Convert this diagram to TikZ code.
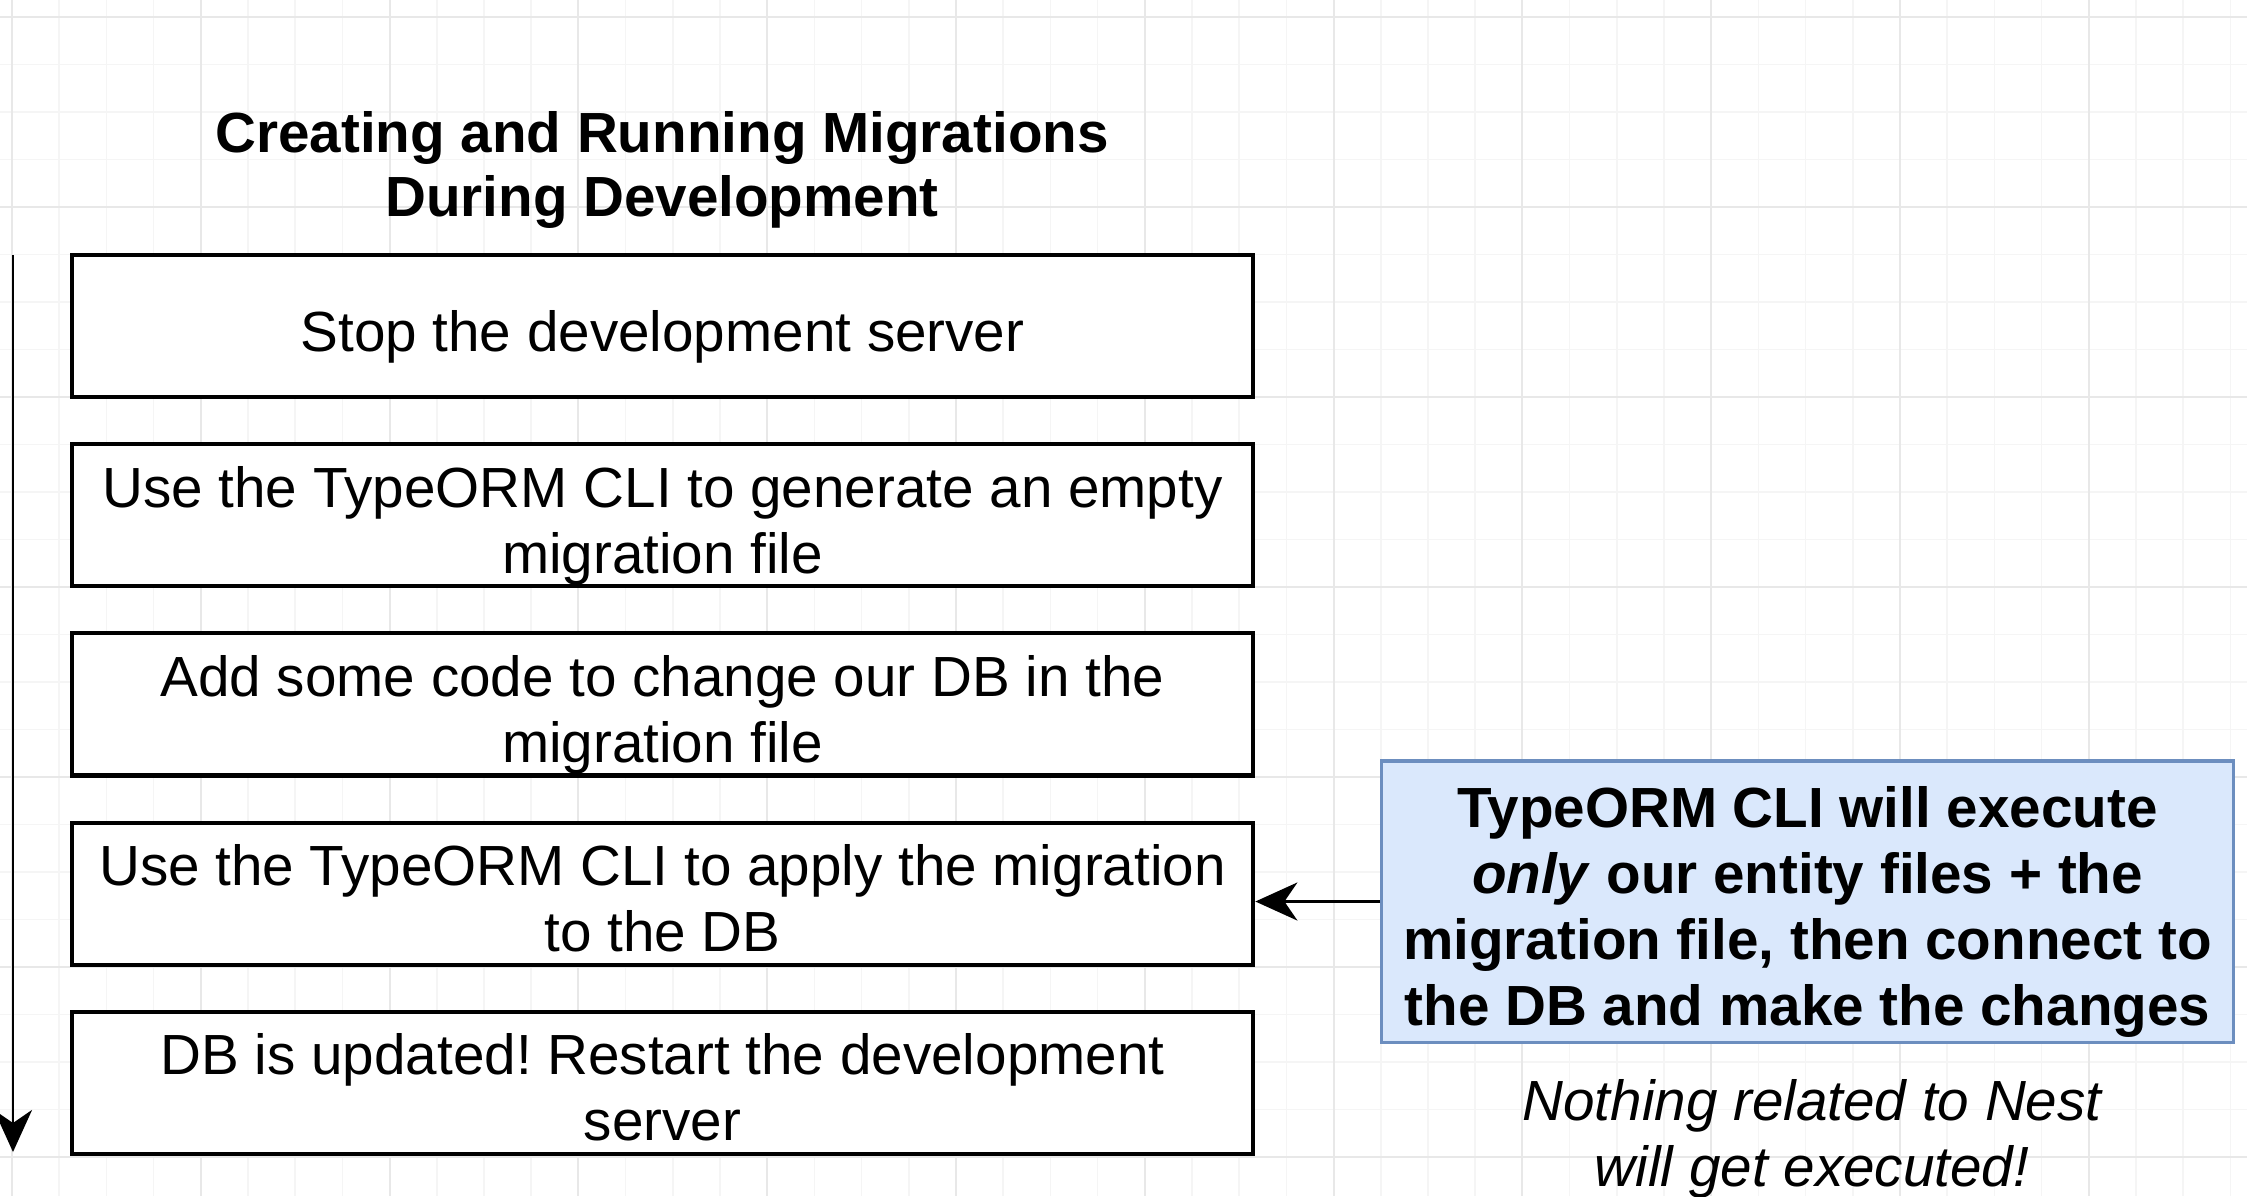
\documentclass[tikz,border=0pt]{standalone}
\usepackage{fontspec}
\setmainfont{Liberation Sans}
\usetikzlibrary{arrows.meta, positioning}
\definecolor{note}{RGB}{218, 232, 252}
\definecolor{noteline}{RGB}{108, 142, 191}
\definecolor{minorgrid}{RGB}{245, 245, 245}
\definecolor{majorgrid}{RGB}{232, 232, 232}
\frenchspacing

\tikzset{
  boxtext/.style={execute at begin node={\rule{0pt}{0.63cm}},
    execute at end node={\rule[-0.13cm]{0pt}{0pt}}},
  stepbox/.style={draw, line width=1.15pt, fill=white, align=flush center, inner sep=0pt,
    text width=11.81cm, minimum height=1.42cm, boxtext},
  notebox/.style={draw=noteline, line width=0.9pt, fill=note, align=flush center, inner sep=0pt,
    text width=8.51cm, minimum height=2.81cm, boxtext,
    font=\fontsize{16.1}{18.8}\selectfont\bfseries},
  flow/.style={line width=0.85pt, -{Stealth[length=0.42cm, width=0.38cm, inset=0.13cm]}}
}

\begin{document}
\begin{tikzpicture}[x=0.01cm, y=-0.01cm, node distance=0.43cm,
  font=\fontsize{16.1}{18.8}\selectfont]
  \useasboundingbox (0, 0) rectangle (2247, 1196);
  \fill [white] (0, 0) rectangle (2247, 1196);

  % Grid
  \foreach \i in {0,...,47}
    \draw [minorgrid, line width=0.5pt] ({12 + 47.2*\i}, 0) -- ++(0, 1196);
  \foreach \j in {0,...,24}
    \draw [minorgrid, line width=0.5pt] (0, {17 + 47.5*\j}) -- ++(2247, 0);
  \foreach \i in {0,4,...,44}
    \draw [majorgrid, line width=0.6pt] ({12 + 47.2*\i}, 0) -- ++(0, 1196);
  \foreach \j in {0,4,...,24}
    \draw [majorgrid, line width=0.6pt] (0, {17 + 47.5*\j}) -- ++(2247, 0);

  % Title
  \node (title) at (662, 170) [align=center, font=\fontsize{16.1}{18.2}\selectfont\bfseries]
    {Creating and Running Migrations\\During Development};

  % Steps
  \node (s1) at (662.5, 326) [stepbox] {Stop the development server};
  \node (s2) [stepbox, below=of s1] {Use the TypeORM CLI to generate an empty\\migration file};
  \node (s3) [stepbox, below=of s2] {Add some code to change our DB in the\\migration file};
  \node (s4) [stepbox, below=of s3] {Use the TypeORM CLI to apply the migration\\to the DB};
  \node (s5) [stepbox, below=of s4] {DB is updated! Restart the development\\server};

  \coordinate (flowtop) at (13, 255);
  \coordinate (flowend) at (13, 1152);
  \draw [flow] (flowtop) -- (flowend);

  % Note
  \node (cli) at (1807.5, 901.5) [notebox]
    {TypeORM CLI will execute\\\textit{only} our entity files + the\\migration file, then connect to\\the DB and make the changes};
  \node (nest) at (1812, 1139) [align=center, font=\fontsize{16.1}{18.8}\selectfont\itshape]
    {Nothing related to Nest\\will get executed!};

  \draw [flow] (cli.west) -- (cli.west -| s4.east);
\end{tikzpicture}
\end{document}
